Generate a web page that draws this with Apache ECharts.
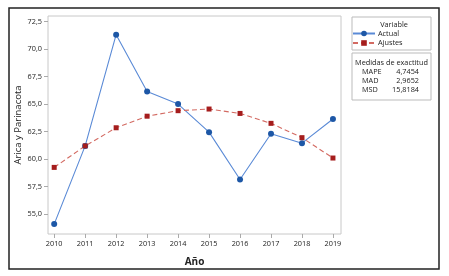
<!DOCTYPE html>
<html>
<head>
<meta charset="utf-8">
<script src="https://cdn.jsdelivr.net/npm/echarts@6/dist/echarts.min.js"></script>
<style>
	html, body { margin: 0; padding: 0; background: #fff; }
	#chart { width: 449px; height: 276px; }
</style>
</head>
<body>
<div id="chart"></div>
<script>
// datos
var years = [2010, 2011, 2012, 2013, 2014, 2015, 2016, 2017, 2018, 2019];
var actual = [54.1, 61.2, 71.3, 66.15, 65.0, 62.45, 58.15, 62.3, 61.45, 63.65];
var ajustes = [59.25, 61.2, 62.85, 63.9, 64.4, 64.55, 64.15, 63.25, 61.95, 60.1];
var yTicks = [55, 57.5, 60, 62.5, 65, 67.5, 70, 72.5];
var metricNames = ['MAPE', 'MAD', 'MSD'];
var metricValues = ['4,7454', '2,9652', '15,8184'];

var font = '"Open Sans", "Noto Sans", sans-serif';

function pairs(vals) {
	var out = [];
	for (var i = 0; i < years.length; i++) {
		out.push([years[i], vals[i]]);
	}
	return out;
}

var graphics = [ {
	type : 'rect',
	shape : { x : 9, y : 8, width : 430, height : 261 },
	style : { fill : 'none', stroke : '#222', lineWidth : 1.5 }
}, {
	type : 'rect',
	shape : { x : 352, y : 17, width : 79, height : 33 },
	style : { fill : 'none', stroke : '#bbb', lineWidth : 1 }
}, {
	type : 'rect',
	shape : { x : 352, y : 53, width : 79, height : 47 },
	style : { fill : 'none', stroke : '#bbb', lineWidth : 1 }
}, {
	type : 'text',
	x : 394, y : 25,
	style : { text : 'Variable', fill : '#222', font : '7.3px ' + font, textAlign : 'center', textVerticalAlign : 'middle' }
}, {
	type : 'text',
	x : 391.5, y : 63,
	style : { text : 'Medidas de exactitud', fill : '#222', font : '7.3px ' + font, textAlign : 'center', textVerticalAlign : 'middle' }
} ];
for (var i = 0; i < metricNames.length; i++) {
	graphics.push({
		type : 'text',
		x : 362, y : 72 + i * 9,
		style : { text : metricNames[i], fill : '#222', font : '7.3px ' + font, textAlign : 'left', textVerticalAlign : 'middle' }
	});
	graphics.push({
		type : 'text',
		x : 419, y : 72 + i * 9,
		style : { text : metricValues[i], fill : '#222', font : '7.3px ' + font, textAlign : 'right', textVerticalAlign : 'middle' }
	});
}

var myChart = echarts.init(document.getElementById('chart'));
var option = {
	animation : false,
	textStyle : { fontFamily : font },
	grid : {
		left : 48, top : 16, right : 108, bottom : 42,
		show : true, borderColor : '#c8c8c8', borderWidth : 1
	},
	legend : {
		orient : 'vertical',
		left : 352, top : 30,
		itemWidth : 22, itemHeight : 7, itemGap : 2.5,
		padding : 0,
		textStyle : { fontSize : 7.3, color : '#222', padding : [0, 0, 0, -2] },
		data : ['Actual', 'Ajustes']
	},
	xAxis : {
		type : 'value',
		min : 2009.8, max : 2019.26,
		name : 'Año', nameLocation : 'middle', nameGap : 23,
		nameMoveOverlap : false,
		nameTextStyle : { fontSize : 10, fontWeight : 'bold', color : '#222' },
		axisLine : { show : false },
		splitLine : { show : false },
		axisTick : { show : true, length : 4, lineStyle : { color : '#aaa' }, customValues : years },
		axisLabel : { fontSize : 7.3, color : '#222', margin : 6, customValues : years,
			formatter : function(v) { return String(v); } }
	},
	yAxis : {
		type : 'value',
		min : 53.2, max : 73.0,
		name : 'Arica y Parinacota', nameLocation : 'middle', nameGap : 24.5,
		nameMoveOverlap : false,
		nameTextStyle : { fontSize : 9.5, color : '#222' },
		axisLine : { show : false },
		splitLine : { show : false },
		axisTick : { show : true, length : 4, lineStyle : { color : '#aaa' }, customValues : yTicks },
		axisLabel : { fontSize : 7.3, color : '#222', margin : 6, customValues : yTicks,
			formatter : function(v) { return v.toFixed(1).replace('.', ','); } }
	},
	series : [ {
		name : 'Actual',
		type : 'line',
		data : pairs(actual),
		symbol : 'circle', symbolSize : 6,
		itemStyle : { color : '#1d57a6' },
		lineStyle : { color : '#5a8ad6', width : 1.1 }
	}, {
		name : 'Ajustes',
		type : 'line',
		data : pairs(ajustes),
		symbol : 'rect', symbolSize : 5,
		itemStyle : { color : '#a51d1d' },
		lineStyle : { color : '#d36a62', width : 1.1, type : [5, 3] }
	} ],
	graphic : graphics
};
myChart.setOption(option);
</script>
</body>
</html>
